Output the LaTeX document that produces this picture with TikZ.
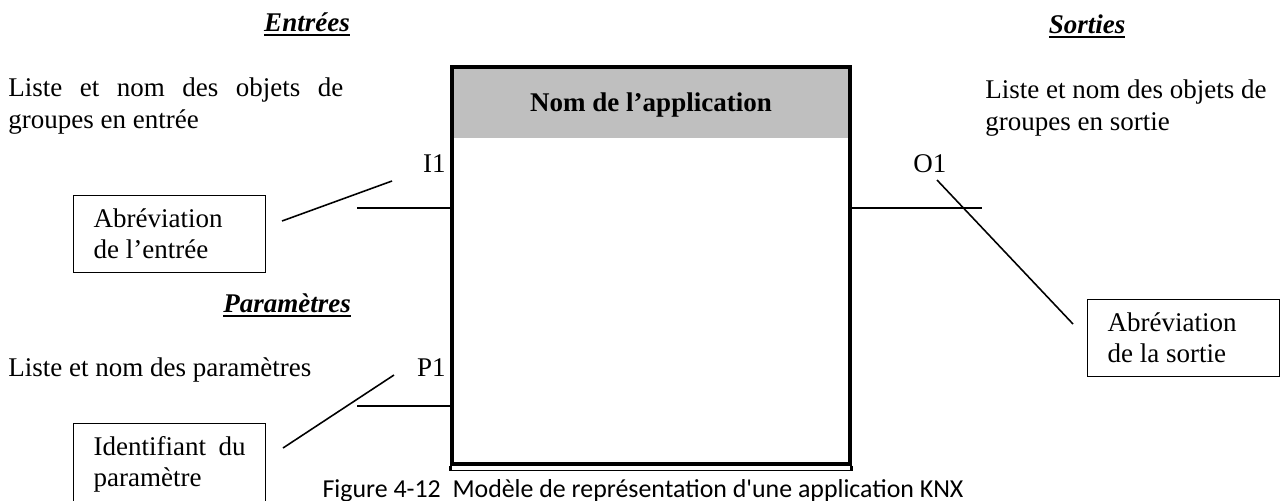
\documentclass[tikz,border=0pt]{standalone}
\usepackage{fontspec}
\setmainfont{Liberation Serif}
\newfontfamily\legende{Carlito}
\usetikzlibrary{positioning}
\newlength\unite
\setlength\unite{0.4444pt}
\definecolor{entete}{RGB}{191,191,191}
\newcommand\souligne[1]{\vtop{\hbox{#1}\kern1.2pt\hrule height 0.8pt}}

\begin{document}
\begin{tikzpicture}[x=0.4444pt,y=-0.4444pt,font=\fontsize{12}{13.8}\selectfont,
    titre/.style={font=\fontsize{12}{13.8}\selectfont\bfseries\itshape,inner sep=0pt,anchor=base},
    texte/.style={inner sep=0pt,align=left,anchor=base west},
    cadre/.style={draw,line width=0.6pt,anchor=north west,text width=152\unite,
        inner xsep=20\unite,inner ysep=0pt,minimum height=77\unite,align=justify},
    trait/.style={line width=0.9pt},
    renvoi/.style={line width=0.7pt}]
    \useasboundingbox (0,0) rectangle (1287,500);
    % bloc de l'application
    \fill[entete] (452,67) rectangle (850,138);
    \node[draw,line width=1.5pt,minimum width=398\unite,minimum height=397\unite,inner sep=0pt] (app) at (651,265.5) {};
    \node[font=\fontsize{12}{13.8}\selectfont\bfseries,anchor=base] (nom_app) at (651,111) {Nom de l’application};
    \draw[line width=0.6pt] ([yshift=-5\unite]app.south west) -- ([yshift=-5\unite]app.south east);
    \draw[line width=1.5pt] (app.south west) -- ++(0,5);
    \draw[line width=1.5pt] (app.south east) -- ++(0,5);

    \node[titre] (t_entrees) at (307,31) {\souligne{Entrées}};
    \node[titre] (t_sorties) at (1087,33) {\souligne{Sorties}};
    \node[titre] (t_param) at (287,312) {\souligne{Paramètres}};

    % texte sur deux lignes : base = derniere ligne
    \node[texte] (l_entrees) at (8,128) {\makebox[335\unite][s]{Liste et nom des objets de}\\groupes en entrée};
    \node[texte] (l_sorties) at (985,130) {Liste et nom des objets de\\groupes en sortie};
    \node[texte] (l_param) at (8,376) {Liste et nom des paramètres};

    \node[texte,anchor=base east] (i_1) at (446,172) {I1};
    \node[texte] (o_1) at (913,172) {O1};
    \node[texte,anchor=base east] (p_1) at (446,376) {P1};

    \node[cadre] (abr_e) at (73,195) {Abréviation de l’entrée};
    \node[cadre] (abr_s) at (1087,299) {Abréviation de la sortie};
    \node[cadre,minimum height=82\unite] (id_p) at (73,423) {Identifiant du paramètre};

    % liaisons
    \coordinate (e_1) at (357,208);
    \coordinate (s_1) at (982,208);
    \coordinate (p_0) at (357,406);
    \draw[trait] (e_1) -- (e_1 -| app.west);
    \draw[trait] (app.east |- s_1) -- (s_1);
    \draw[trait] (p_0) -- (p_0 -| app.west);

    \coordinate (r_e1) at (282,221);
    \coordinate (r_e2) at (392,181);
    \coordinate (r_s1) at (937,180);
    \coordinate (r_s2) at (1073,324);
    \coordinate (r_p1) at (283,448);
    \coordinate (r_p2) at (394,375);
    \draw[renvoi] (r_e1) -- (r_e2);
    \draw[renvoi] (r_s1) -- (r_s2);
    \draw[renvoi] (r_p1) -- (r_p2);

    \node[font=\legende\fontsize{11.5}{13}\selectfont,anchor=base] (legende) at (643,497) {Figure 4-12~ Modèle de représentation d'une application KNX};
\end{tikzpicture}
\end{document}
